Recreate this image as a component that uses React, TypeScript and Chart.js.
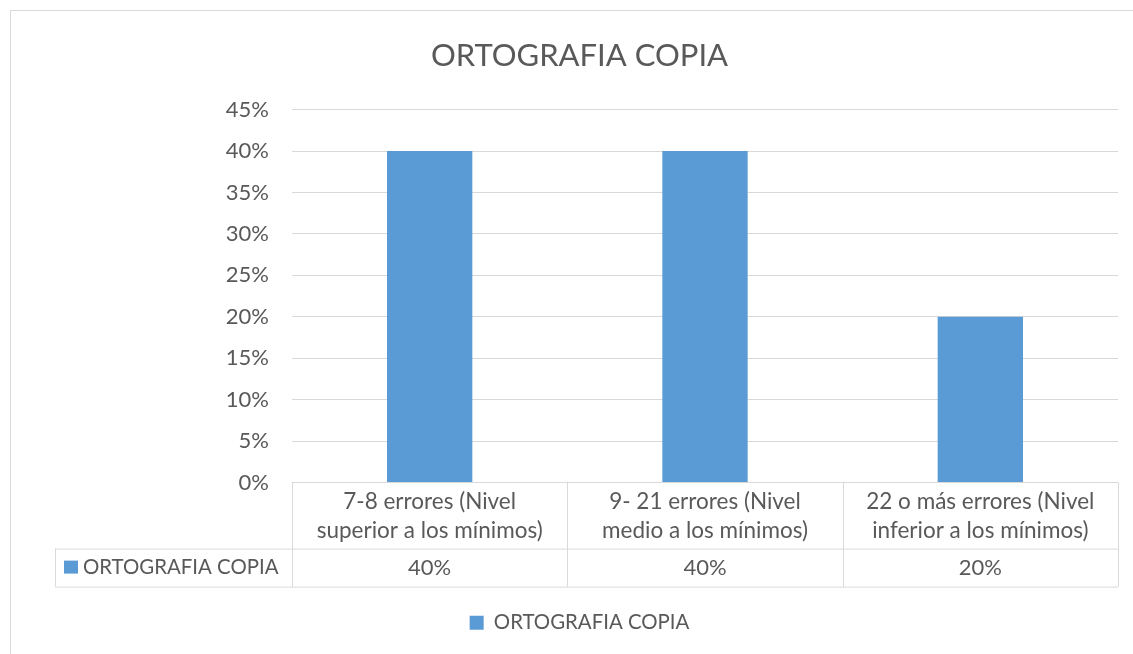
import React, { useEffect, useRef } from "react";
import { Chart, registerables } from "chart.js";

Chart.register(...registerables);

const TITLE = "ORTOGRAFIA COPIA";
const SERIES_NAME = "ORTOGRAFIA COPIA";
const categoryLines: string[][] = [
  ["7-8 errores (Nivel", "superior a los mínimos)"],
  ["9- 21 errores (Nivel", "medio a los mínimos)"],
  ["22 o más errores (Nivel", "inferior a los mínimos)"],
];
const values: number[] = [40, 40, 20];
const Y_MAX = 45;
const Y_STEP = 5;

const FONT = "Lato";
const TEXT = "#595959";
const GRID = "#D9D9D9";
const BAR = "#5B9BD5";

const fmt = (v: number) => `${Math.round(v)}%`;

const borderPlugin = {
  id: "outerBorder",
  beforeDraw(chart: any) {
    const { ctx, width, height } = chart;
    ctx.save();
    ctx.fillStyle = "#ffffff";
    ctx.fillRect(0, 0, width, height);
    ctx.strokeStyle = GRID;
    ctx.lineWidth = 1;
    ctx.strokeRect(10.5, 10.5, width + 100, height + 100);
    ctx.restore();
  },
};

const tablePlugin = {
  id: "dataTable",
  afterDraw(chart: any) {
    const { ctx, chartArea: ca } = chart;
    const xs = chart.scales.x;
    const n = values.length;
    const catW = (ca.right - ca.left) / n;
    const top = ca.bottom;
    const row1B = top + 66;
    const row2B = row1B + 38;
    const tableLeft = 55;
    ctx.save();
    ctx.strokeStyle = GRID;
    ctx.lineWidth = 1;
    ctx.beginPath();
    for (let i = 0; i <= n; i++) {
      const xv = Math.round(ca.left + i * catW) + 0.5;
      ctx.moveTo(xv, top);
      ctx.lineTo(xv, row2B);
    }
    ctx.moveTo(tableLeft, row1B + 0.5);
    ctx.lineTo(ca.right, row1B + 0.5);
    ctx.moveTo(tableLeft, row2B + 0.5);
    ctx.lineTo(ca.right, row2B + 0.5);
    ctx.moveTo(tableLeft + 0.5, row1B);
    ctx.lineTo(tableLeft + 0.5, row2B);
    ctx.stroke();

    ctx.fillStyle = TEXT;
    ctx.textAlign = "center";
    ctx.textBaseline = "middle";
    for (let i = 0; i < n; i++) {
      const cx = xs.getPixelForValue(i);
      const lines = categoryLines[i];
      ctx.font = `22.5px ${FONT}`;
      lines.forEach((ln, j) => ctx.fillText(ln, cx, top + 19 + j * 29));
      ctx.font = `22px ${FONT}`;
      ctx.fillText(fmt(values[i]), cx, row1B + 19);
    }
    ctx.fillStyle = BAR;
    ctx.fillRect(64, row1B + 12, 14, 13);
    ctx.fillStyle = TEXT;
    ctx.textAlign = "left";
    ctx.font = `20.4px ${FONT}`;
    ctx.fillText(SERIES_NAME, 83, row1B + 19);
    ctx.restore();
  },
};

export default function App() {
  const ref = useRef<HTMLCanvasElement | null>(null);
  useEffect(() => {
    if (!ref.current) return;
    const chart = new Chart(ref.current, {
      type: "bar",
      data: {
        labels: categoryLines.map((l) => l.join(" ")),
        datasets: [
          {
            label: SERIES_NAME,
            data: values,
            backgroundColor: BAR,
            borderWidth: 0,
            categoryPercentage: 1,
            barPercentage: 0.31,
          },
        ],
      },
      options: {
        animation: false,
        responsive: false,
        devicePixelRatio: 1,
        layout: { padding: { left: 41, right: 15, top: 0, bottom: 11 } },
        plugins: {
          title: {
            display: true,
            text: TITLE,
            color: TEXT,
            font: { family: FONT, size: 31, weight: "normal" },
            padding: { top: 37, bottom: 35.4 },
          },
          legend: {
            display: true,
            position: "bottom",
            labels: {
              color: TEXT,
              font: { family: FONT, size: 20.4 },
              boxWidth: 14,
              boxHeight: 14,
              padding: 10,
            },
          },
          tooltip: { enabled: false },
        },
        scales: {
          x: {
            ticks: { display: false },
            grid: { display: false },
            border: { display: false },
            afterFit: (s: any) => {
              s.height = 120;
            },
          },
          y: {
            min: 0,
            max: Y_MAX,
            ticks: {
              stepSize: Y_STEP,
              color: TEXT,
              font: { family: FONT, size: 22 },
              padding: 23,
              callback: (v: any) => fmt(Number(v)),
            },
            grid: { color: GRID, lineWidth: 1, drawTicks: false },
            border: { display: false },
            afterFit: (s: any) => {
              s.width = 251;
            },
          },
        },
      },
      plugins: [borderPlugin, tablePlugin],
    });
    return () => chart.destroy();
  }, []);
  return (
    <div style={{ position: "fixed", left: 0, top: 0, width: 1133, height: 654, background: "#fff" }}>
      <canvas ref={ref} width={1133} height={654} style={{ display: "block" }} />
    </div>
  );
}
